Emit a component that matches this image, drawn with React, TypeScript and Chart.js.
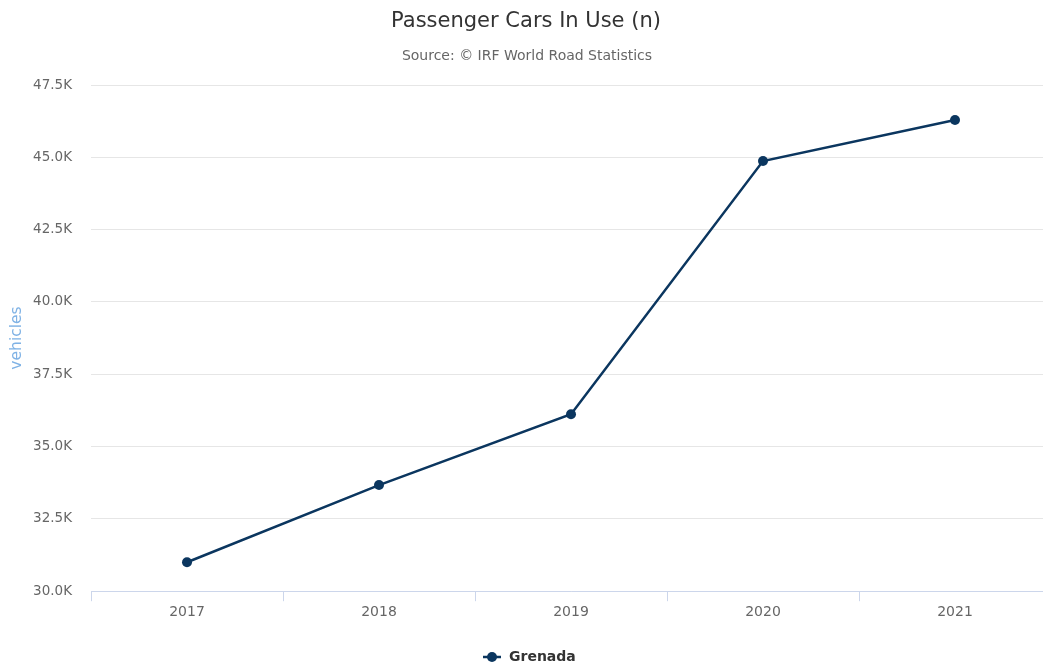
import React, { useEffect, useRef } from "react";
import { Chart, registerables } from "chart.js";

Chart.register(...registerables);

const categories = ["2017", "2018", "2019", "2020", "2021"];
const seriesName = "Grenada";
const values = [31000, 33670, 36120, 44870, 46290];
const yTicks = [30000, 32500, 35000, 37500, 40000, 42500, 45000, 47500];
const titleText = "Passenger Cars In Use (n)";
const subtitleText = "Source: © IRF World Road Statistics";
const yTitle = "vehicles";

const FONT = "'DejaVu Sans', sans-serif";
const LINE = "#0b365f";

const overlay = {
  id: "overlay",
  afterDraw(chart: any) {
    const ctx = chart.ctx;
    ctx.save();
    ctx.textAlign = "center";
    ctx.textBaseline = "middle";
    ctx.fillStyle = "#333333";
    ctx.font = `21px ${FONT}`;
    ctx.fillText(titleText, 526, 22);
    ctx.fillStyle = "#666666";
    ctx.font = `14px ${FONT}`;
    ctx.fillText(subtitleText, 527, 56);
    // legend
    const ly = 657;
    ctx.strokeStyle = LINE;
    ctx.lineWidth = 2.5;
    ctx.beginPath();
    ctx.moveTo(483, ly);
    ctx.lineTo(501, ly);
    ctx.stroke();
    ctx.fillStyle = LINE;
    ctx.beginPath();
    ctx.arc(492, ly, 5, 0, Math.PI * 2);
    ctx.fill();
    ctx.fillStyle = "#333333";
    ctx.font = `bold 14px ${FONT}`;
    ctx.textAlign = "left";
    ctx.fillText(seriesName, 509, ly);
    // y title
    ctx.translate(17, 338);
    ctx.rotate(-Math.PI / 2);
    ctx.textAlign = "center";
    ctx.fillStyle = "#7fb2e5";
    ctx.font = `15.5px ${FONT}`;
    ctx.fillText(yTitle, 0, 0);
    ctx.restore();
  },
};

export default function App() {
  const ref = useRef<HTMLCanvasElement>(null);
  useEffect(() => {
    document.body.style.overflow = "hidden";
    const chart = new Chart(ref.current as HTMLCanvasElement, {
      type: "line",
      data: {
        labels: categories,
        datasets: [
          {
            label: seriesName,
            data: values,
            borderColor: LINE,
            backgroundColor: LINE,
            borderWidth: 2.5,
            pointRadius: 5,
            pointHoverRadius: 5,
            pointBackgroundColor: LINE,
            pointBorderWidth: 0,
            tension: 0,
          },
        ],
      },
      options: {
        animation: false,
        responsive: false,
        maintainAspectRatio: false,
        layout: { padding: { top: 85, right: 9, left: 0, bottom: 42 } },
        plugins: {
          legend: { display: false },
          title: { display: false },
          tooltip: { enabled: false },
        },
        scales: {
          x: {
            type: "category",
            offset: true,
            grid: {
              offset: true,
              drawOnChartArea: false,
              drawTicks: true,
              tickLength: 10,
              color: "#ccd6eb",
            },
            border: { display: true, color: "#ccd6eb", width: 1 },
            ticks: {
              color: "#666666",
              font: { family: FONT, size: 14 },
              padding: 3,
              maxRotation: 0,
            },
          },
          y: {
            min: 30000,
            max: 47500,
            afterFit: (scale: any) => {
              scale.width = 91;
            },
            afterBuildTicks: (scale: any) => {
              scale.ticks = yTicks.map((v) => ({ value: v }));
            },
            border: { display: false },
            grid: { color: "#e6e6e6", drawTicks: false, lineWidth: 1 },
            ticks: {
              color: "#666666",
              font: { family: FONT, size: 13.5 },
              padding: 19,
              callback: (v: any) => (Number(v) / 1000).toFixed(1) + "K",
            },
          },
        },
      },
      plugins: [overlay],
    });
    return () => chart.destroy();
  }, []);
  return (
    <div style={{ position: "fixed", left: 0, top: 0, width: 1060, height: 666 }}>
      <canvas ref={ref} width={1060} height={666} style={{ width: 1060, height: 666 }} />
    </div>
  );
}
